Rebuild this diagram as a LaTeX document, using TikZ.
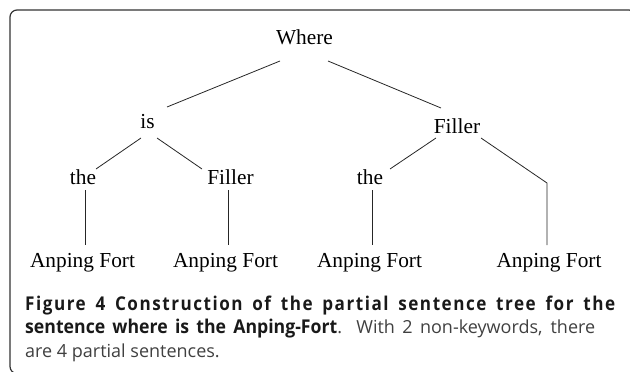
\documentclass[tikz,border=0pt]{standalone}
\usepackage{fontspec}
\setmainfont{Liberation Serif}
\newfontfamily\capfont{Open Sans}
\newfontfamily\capbold{Open Sans}[FakeStretch=0.93]
\newfontfamily\capboldsp{Open Sans}[FakeStretch=0.9,LetterSpace=8]
\usetikzlibrary{calc}
\begin{document}
\begin{tikzpicture}[x=1pt,y=-1pt,
  lbl/.style={font=\fontsize{21.35}{24}\selectfont, inner sep=0pt, anchor=base},
  edge/.style={line width=0.8pt, draw=black!85},
  frame/.style={line width=1.2pt, draw=black!80, rounded corners=7pt},
  captext/.style={anchor=base west, inner sep=0pt, font=\capfont\fontsize{18}{22}\selectfont, text=black!75}]
\useasboundingbox (0,0) rectangle (630,372);
\begin{scope}
\clip (0,0) rectangle (630,372);
\draw[frame] (40,373.5) -- (10,373.5) -- (10,10) -- (636,10) -- (636,40);
\end{scope}
% tree nodes
\node[lbl] (where) at (304.5,45) {Where};
\node[lbl] (is) at (147.5,128) {is};
\node[lbl] (fr) at (457,133) {Filler};
\node[lbl] (tl) at (83,184) {the};
\node[lbl] (fl) at (230.5,184) {Filler};
\node[lbl] (tr) at (370,184) {the};
\node[lbl] (a1) at (82.5,267) {Anping Fort};
\node[lbl] (a2) at (225.5,267) {Anping Fort};
\node[lbl] (a3) at (369.5,267) {Anping Fort};
\node[lbl] (a4) at (549,267) {Anping Fort};
% edges
\draw[edge] ($(where.base)+(-24.5,16)$) -- ($(is.base)+(19.5,-21)$);
\draw[edge] ($(where.base)+(23.5,16)$) -- ($(fr.base)+(-16,-25)$);
\draw[edge] ($(is.base)+(-6.5,10)$) -- ($(tl.base)+(13,-15)$);
\draw[edge] ($(is.base)+(9.5,10)$) -- ($(fl.base)+(-28.5,-15)$);
\draw[edge] ($(fr.base)+(-21,5)$) -- ($(tr.base)+(20,-15)$);
\draw[edge] ($(fr.base)+(24,5)$) -- ($(a4.base)+(-2,-84)$) -- ($(a4.base)+(-2,-22)$);
\draw[edge] ($(tl.base)+(2,6)$) -- ($(a1.base)+(2.5,-22)$);
\draw[edge] ($(fl.base)+(-2.5,6)$) -- ($(a2.base)+(2.5,-22)$);
\draw[edge] ($(tr.base)+(2,6)$) -- ($(a3.base)+(2.5,-22)$);
% caption
\node[captext, text=black!90] (c1) at (25,310) {\makebox[590pt][s]{\capboldsp\bfseries\fontsize{19}{22}\selectfont Figure 4 Construction of the partial sentence tree for the}};
\node[captext] (c2) at (25,333.5) {\makebox[570pt][s]{\textcolor{black!90}{\capbold\bfseries\fontsize{19}{22}\selectfont sentence where is the Anping-Fort}. With 2 non-keywords, there}};
\node[captext] (c3) at (25,357) {are 4 partial sentences.};
\end{tikzpicture}
\end{document}
